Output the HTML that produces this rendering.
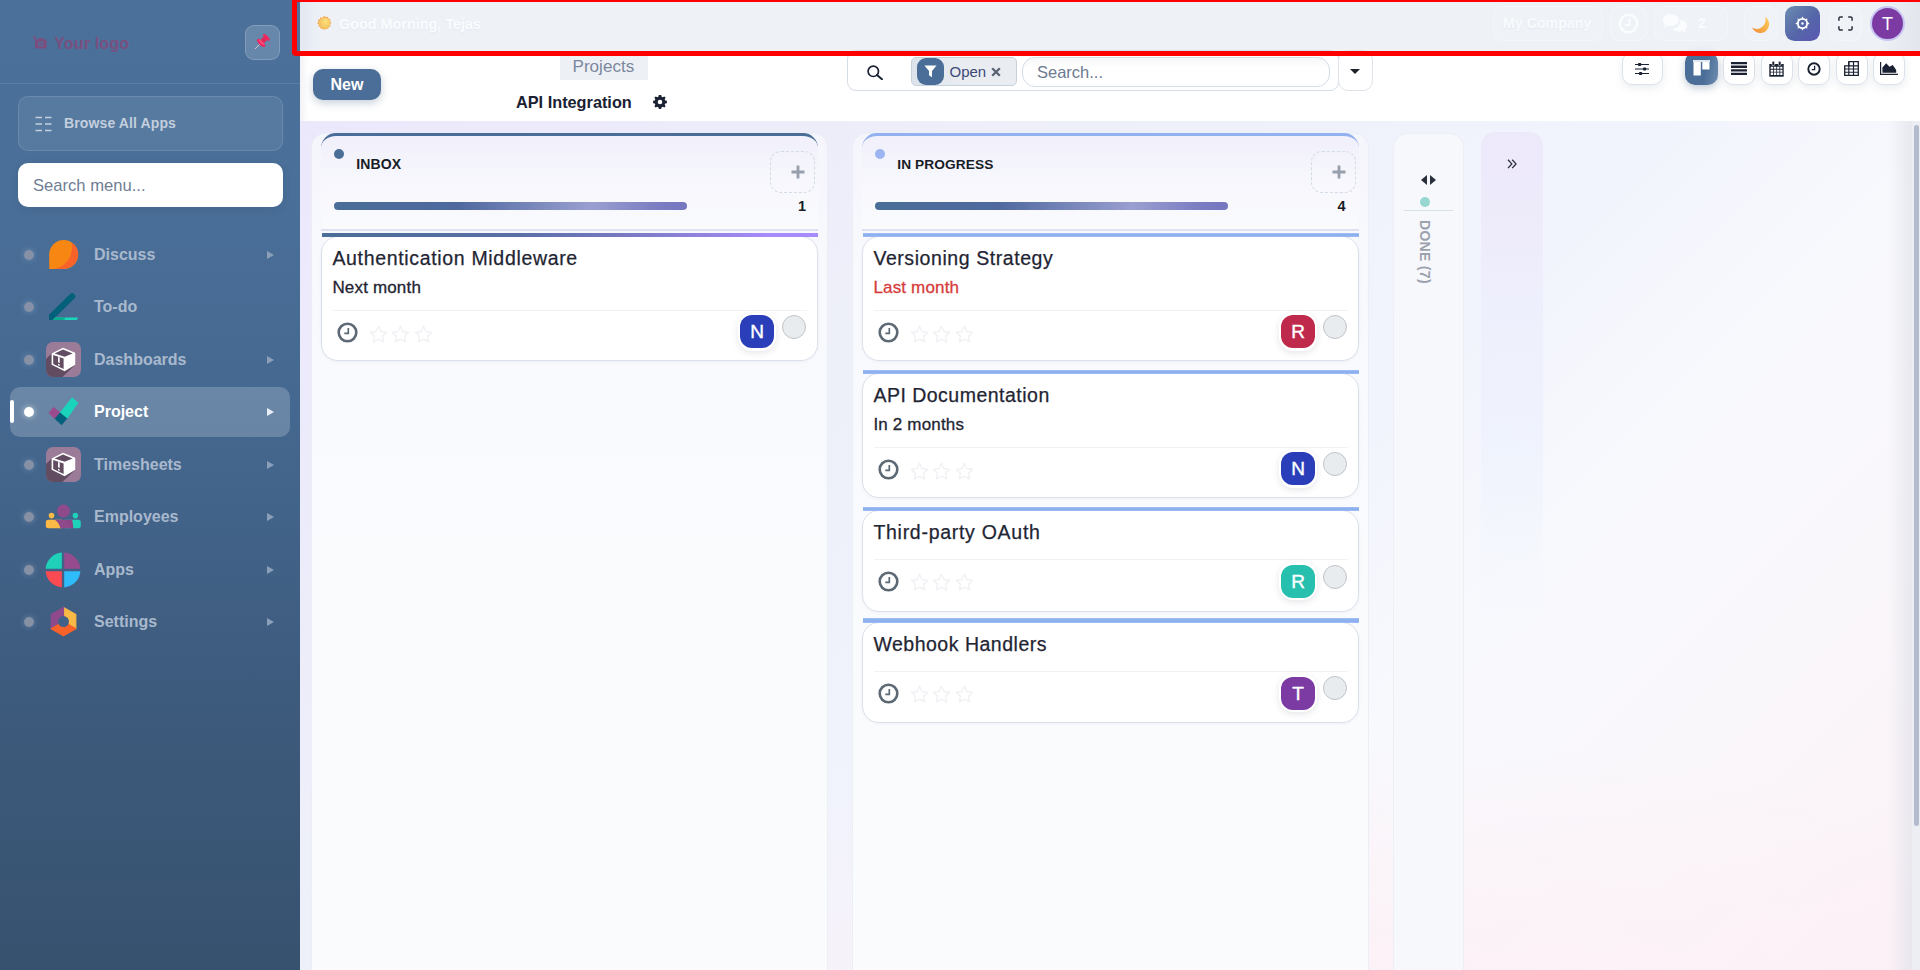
<!DOCTYPE html>
<html lang="en">
<head>
<meta charset="utf-8">
<title>API Integration - Project</title>
<style>
*{box-sizing:border-box;margin:0;padding:0}
html,body{width:1920px;height:970px;overflow:hidden;background:#fff;font-family:"Liberation Sans",sans-serif;color:#1a2233}
.abs{position:absolute}
#app{position:relative;width:1920px;height:970px;overflow:hidden}

/* ---------- sidebar ---------- */
#sidebar{position:absolute;left:0;top:0;width:300px;height:970px;background:linear-gradient(180deg,#4b719b 0%,#4a6f98 20%,#456890 42%,#3e5c7f 68%,#37526f 100%)}
#logo{position:absolute;left:54px;top:33.500px;font-size:16px;font-weight:bold;color:#7a4f80;line-height:20px;letter-spacing:.2px}
#logocam{position:absolute;left:33px;top:36px}
#pin{position:absolute;left:245px;top:25px;width:35px;height:35px;border-radius:9px;background:rgba(255,255,255,.16);border:1px solid rgba(255,255,255,.18)}
#sbline{position:absolute;left:0;top:83px;width:300px;height:1px;background:rgba(255,255,255,.10)}
#browse{position:absolute;left:18px;top:96px;width:265px;height:55px;border-radius:10px;background:rgba(255,255,255,.07);border:1px solid rgba(255,255,255,.12)}
#browse span{position:absolute;left:45px;top:18px;font-size:14px;font-weight:bold;color:#c3cfdd;line-height:17px;letter-spacing:.12px}
#sbsearch{position:absolute;left:18px;top:163px;width:265px;height:44px;border-radius:10px;background:#fff;box-shadow:0 2px 8px rgba(20,40,70,.10)}
#sbsearch span{position:absolute;left:15px;top:13px;font-size:16.6px;color:#6f7d95;line-height:20px}
.mi{position:absolute;left:0;width:300px;height:50px}
.mi .dot{position:absolute;left:24px;top:20px;width:10px;height:10px;border-radius:50%;background:rgba(138,148,168,.95);box-shadow:0 0 6px rgba(170,190,220,.42)}
.mi .ic{position:absolute;left:45px;top:7px;width:36px;height:36px}
.mi .tx{position:absolute;left:94px;top:15px;font-size:16px;font-weight:bold;line-height:20px;color:#a9b9cd}
.mi .ar{position:absolute;left:267.200px;top:20.700px;width:0;height:0;border-left:7px solid #8c9fb9;border-top:4px solid transparent;border-bottom:4px solid transparent}
.mi.active .bg{position:absolute;left:10px;top:0px;width:280px;height:50px;border-radius:10px;background:rgba(255,255,255,.20)}
.mi.active .bar{position:absolute;left:10px;top:13px;width:3.500px;height:23px;border-radius:2px;background:#fff}
.mi.active .dot{background:#fff;box-shadow:0 0 6px rgba(255,255,255,.6)}
.mi.active .tx{color:#fff}
.mi.active .ar{border-left-color:#e8eef6}

/* ---------- topbar ---------- */
#topbar{position:absolute;left:300px;top:0;width:1620px;height:53px;background:#eef2f7}
#topbar .lshade{position:absolute;left:0;top:0;width:22px;height:53px;background:linear-gradient(90deg,#e3e8f1,#eef2f7)}
#topbar .rshade{position:absolute;right:0;top:0;width:40px;height:53px;background:linear-gradient(90deg,#eef2f7,#e2e6ec)}
#redbox{position:absolute;left:292.300px;top:-2.700px;width:1640px;height:58.200px;border:5.100px solid #ff0000;border-radius:4px;pointer-events:none;z-index:50}
#greet{position:absolute;left:39px;top:15px;font-size:14.4px;font-weight:bold;color:#fafcfe;line-height:18px;text-shadow:0 1px 2px rgba(150,165,190,.10)}
.tbb{position:absolute;top:6px;height:35px;border-radius:10px;border:1px solid rgba(255,255,255,.30);background:rgba(255,255,255,.06)}

.vb{position:absolute;top:52px;width:32px;height:33px;border-radius:10px;background:#fff;border:1px solid #dbe2ec;box-shadow:0 3px 8px rgba(60,80,110,.10)}
#content{position:absolute;left:300px;top:121px;width:1620px;height:849px;overflow:hidden;background:radial-gradient(ellipse 900px 280px at 65% 106%,rgba(253,240,246,.95),rgba(253,240,246,0)),linear-gradient(135deg,#ebe8fb 0%,#eceafb 10%,#eef0f9 32%,#f1f3fd 53%,#f8f9fd 68%,#faf6fa 85%,#fcf1f6 100%)}

#kanban{position:absolute;left:0;top:121px;width:1920px;height:849px;overflow:hidden}
#kanban>*{margin-top:-121px}
.kcol{position:absolute;top:132.500px;width:517.700px;height:860px;border-radius:14px;background:linear-gradient(180deg,#f5f5fc 0,#f8f9fd 120px,#fafbfd 500px);border:1px solid #eceef6}
.khead{position:absolute;top:132.500px;width:497px;height:98.500px;border-radius:15px 15px 0 0;border-top:3.500px solid #4a6e97;border-bottom:2px solid #dde1f1;background:linear-gradient(180deg,#f1f0fb 0,#f7f7fd 45px,#fafbfd 98px)}
.kcard{position:absolute;width:497.300px;border-radius:17px;background:#fff;border:1px solid #dbe1ec;box-shadow:0 1px 3px rgba(60,80,120,.06)}
</style>
</head>
<body>
<div id="app">

<!-- ======================= SIDEBAR ======================= -->
<div id="sidebar">
  <svg id="logocam" width="14" height="13" viewBox="0 0 14 13" style="overflow:visible"><path d="M1.700 -.2v3.600M-.1 1.600h3.600" stroke="#7a4f80" stroke-width="1.200" fill="none"/><path d="M3 3.2h2.2l.8-1.2h3.4l.8 1.2H12.6a1 1 0 0 1 1 1V11.4a1 1 0 0 1-1 1H3a1 1 0 0 1-1-1V4.2a1 1 0 0 1 1-1z" fill="#7a4f80"/><circle cx="7.7" cy="7.8" r="2.5" fill="#4d7099"/><circle cx="7.7" cy="7.8" r="1.3" fill="#7a4f80"/></svg>
  <div id="logo">Your logo</div>
  <div id="pin"><svg class="abs" style="left:0;top:0" width="33" height="33" viewBox="0 0 33 33"><path d="M13.900 18.100L9.200 22.700" stroke="#dcc3cc" stroke-width="1" stroke-linecap="round"/><path d="M13.400 15L18.300 10.100 21.700 13.500 16.800 18.400z" fill="#d92c5b"/><ellipse cx="20.400" cy="11.400" rx="4.300" ry="1.700" transform="rotate(45 20.400 11.400)" fill="#f3275f"/><ellipse cx="15.100" cy="16.960" rx="5.200" ry="2.200" transform="rotate(45 15.100 16.960)" fill="#f3275f"/><ellipse cx="15.600" cy="16.400" rx="3.600" ry="1" transform="rotate(45 15.600 16.400)" fill="#ff5f8b" opacity=".75"/></svg></div>
  <div id="sbline"></div>
  <div id="browse">
    <svg class="abs" style="left:16px;top:19px" width="17" height="16" viewBox="0 0 17 16"><g stroke="#c3cfdd" stroke-width="1.5" fill="none"><path d="M0.500 1.5h6.500M10 1.5h6.500M0.500 8h6.500M10 8h6.500M0.500 14.5h6.500M10 14.5h6.500"/></g></svg>
    <span>Browse All Apps</span>
  </div>
  <div id="sbsearch"><span>Search menu...</span></div>

  <!-- menu items -->
  <div class="mi" style="top:230px"><div class="dot"></div>
    <svg class="ic" viewBox="0 0 36 36"><path d="M4.200 32V17.500A14.500 14.500 0 1 1 18.700 32z" fill="#f78613"/><path d="M26.600 5.400A14.500 14.500 0 0 1 18.700 32H10C21.500 29 29 18 26.600 5.400z" fill="#f9632a"/></svg>
    <div class="tx">Discuss</div><div class="ar"></div></div>

  <div class="mi" style="top:282px"><div class="dot"></div>
    <svg class="ic" viewBox="0 0 36 36"><defs><clipPath id="tdc"><rect x="3.900" y="0" width="32" height="30.900"/></clipPath></defs><path d="M2 32.200L27.100 7.400" stroke="#02607a" stroke-width="6.200" stroke-linecap="round" fill="none" clip-path="url(#tdc)"/><path d="M7.900 31l2.300-2.400h23l-1.400 2.400z" fill="#1ad7bc"/><path d="M7.900 31l2.300-2.400h10.300l-1.400 2.400z" fill="#0bae8c"/></svg>
    <div class="tx">To-do</div></div>

  <div class="mi" style="top:335px"><div class="dot"></div>
    <svg class="ic" viewBox="0 0 36 36"><rect x="1" y="0" width="35" height="35" rx="7" fill="#9b7c98"/><path d="M6.600 11.400L1 17V28a7 7 0 0 0 7 7H17.500L30.200 22.750z" fill="#614c61"/><path d="M18 5.800L30.200 10.850V22.750L19.600 29.200 6.600 22.750V11.400z" fill="#fff"/><path d="M18 7.400L27.600 11.400 19.600 14.700 9.600 11.500z" fill="#614c61"/><path d="M8.200 13.100L18.600 16.500V27.100L8.200 21.900z" fill="#614c61"/><path d="M13 14.900l1.700.6v5.400l-1.700-.7zM13 21.700l1.700.7v1.500l-1.700-.7z" fill="#fff"/></svg>
    <div class="tx">Dashboards</div><div class="ar"></div></div>

  <div class="mi active" style="top:387px"><div class="bg"></div><div class="bar"></div><div class="dot"></div>
    <svg class="ic" viewBox="0 0 36 36"><path d="M8.600 13.300L14.750 18.400 10.100 24.800 3.900 19.100z" fill="#9a4b8d" stroke="#9a4b8d" stroke-width=".8" stroke-linejoin="round"/><path d="M15.500 18.400L22.300 24.100 16.600 30.800 10.100 24.800z" fill="#02607a" stroke="#02607a" stroke-width=".8" stroke-linejoin="round"/><path d="M27.200 3.700L32.900 8.900 22.300 24.100 15.500 18.400z" fill="#1ad3bb" stroke="#1ad3bb" stroke-width=".8" stroke-linejoin="round"/></svg>
    <div class="tx">Project</div><div class="ar"></div></div>

  <div class="mi" style="top:440px"><div class="dot"></div>
    <svg class="ic" viewBox="0 0 36 36"><rect x="1" y="0" width="35" height="35" rx="7" fill="#9b7c98"/><path d="M6.600 11.400L1 17V28a7 7 0 0 0 7 7H17.500L30.200 22.750z" fill="#614c61"/><path d="M18 5.800L30.200 10.850V22.750L19.600 29.200 6.600 22.750V11.400z" fill="#fff"/><path d="M18 7.400L27.600 11.400 19.600 14.700 9.600 11.500z" fill="#614c61"/><path d="M8.200 13.100L18.600 16.500V27.100L8.200 21.900z" fill="#614c61"/><path d="M13 14.900l1.700.6v5.400l-1.700-.7zM13 21.700l1.700.7v1.500l-1.700-.7z" fill="#fff"/></svg>
    <div class="tx">Timesheets</div><div class="ar"></div></div>

  <div class="mi" style="top:492px"><div class="dot"></div>
    <svg class="ic" viewBox="0 0 36 36"><circle cx="6.500" cy="16.600" r="2.800" fill="#fbb945"/><circle cx="30.400" cy="16.600" r="2.800" fill="#1fd1b9"/><path d="M3.300 20.700H17v8.600H3.300A2.500 2.500 0 0 1 .8 26.800V23.200A2.500 2.500 0 0 1 3.300 20.700z" fill="#fbb945"/><path d="M20 20.700H33.300A2.500 2.500 0 0 1 35.800 23.200V26.800A2.500 2.500 0 0 1 33.300 29.300H20z" fill="#1fd1b9"/><path d="M9.800 20.700H27.100C27.800 23.500 28 26.500 28.300 29.300H15.500C14.500 25.500 12.500 22.500 9.800 20.700z" fill="#8f4a8c"/><path d="M20.500 20.700H27.100C27.800 23.500 28 26.500 28.300 29.300H25C24.500 25.500 23 22.800 20.500 20.700z" fill="#7d3f7b" opacity=".22"/><circle cx="18.500" cy="12" r="6.500" fill="#8f4a8c"/></svg>
    <div class="tx">Employees</div><div class="ar"></div></div>

  <div class="mi" style="top:545px"><div class="dot"></div>
    <svg class="ic" viewBox="0 0 36 36"><path d="M16.800 0.600A17.500 17.500 0 0 0 0.600 16.800H16.800z" fill="#1fd1b9"/><path d="M19.200 0.600A17.500 17.500 0 0 1 35.400 16.800H19.200z" fill="#954b8d"/><path d="M16.800 35.400A17.500 17.500 0 0 1 0.600 19.200H16.800z" fill="#fb4a52"/><path d="M19.200 35.400A17.500 17.500 0 0 0 35.400 19.200H19.200z" fill="#2ebcfa"/></svg>
    <div class="tx">Apps</div><div class="ar"></div></div>

  <div class="mi" style="top:597px"><div class="dot"></div>
    <svg class="ic" viewBox="0 0 36 36"><path d="M18.50 3.40L30.80 10.50L30.80 24.70L18.5 17.6z" fill="#fbb945" stroke="#fbb945" stroke-width="1.200" stroke-linejoin="round"/><path d="M18.50 3.40L6.20 10.50L6.20 24.70L18.5 17.6z" fill="#8f4a8c" stroke="#8f4a8c" stroke-width="1.200" stroke-linejoin="round"/><path d="M6.20 24.70L18.50 31.80L30.80 24.70L18.5 17.6z" fill="#f9632a" stroke="#f9632a" stroke-width="1.200" stroke-linejoin="round"/><circle cx="18.5" cy="17.6" r="5.500" fill="#42618a"/></svg>
    <div class="tx">Settings</div><div class="ar"></div></div>
</div>

<!-- ======================= TOPBAR ======================= -->
<div id="topbar">
  <div class="lshade"></div><div class="rshade"></div>
  <svg class="abs" style="left:16px;top:15px" width="17" height="17" viewBox="0 0 17 17"><defs><radialGradient id="sung" cx=".6" cy=".35" r=".7"><stop offset="0" stop-color="#fde27a"/><stop offset="1" stop-color="#eeb85a"/></radialGradient></defs><path d="M8.500 0.800l1.500 1.500 2-.6.600 2 2 .6-.6 2 1.500 1.500-1.500 1.500.6 2-2 .6-.6 2-2-.6-1.500 1.500-1.500-1.500-2 .6-.6-2-2-.6.600-2L1 8.300l1.500-1.500-.6-2 2-.6.600-2 2 .6z" fill="#f5a455"/><circle cx="8.500" cy="8.500" r="6" fill="url(#sung)"/></svg>
  <div id="greet">Good Morning, Tejas</div>
</div>

<!-- ======================= TOPBAR RIGHT ======================= -->
<div class="tbb" style="left:1493px;width:110px"></div>
<div class="abs tbt" style="left:1503px;top:14px;font-size:14.2px;font-weight:bold;color:#f9fbfd;line-height:18px;text-shadow:0 1px 2px rgba(150,165,190,.10)">My Company</div>
<div class="tbb" style="left:1610px;width:37px"></div>
<svg class="abs" style="left:1618px;top:13px" width="21" height="21" viewBox="0 0 21 21"><circle cx="10.500" cy="10.500" r="8.700" fill="none" stroke="#fafcfe" stroke-width="2.600"/><path d="M11.500 5.500v6.500H6.800" fill="none" stroke="#fafcfe" stroke-width="2"/></svg>
<div class="tbb" style="left:1654px;width:74px"></div>
<svg class="abs" style="left:1662px;top:13px" width="26" height="21" viewBox="0 0 26 21"><path d="M8.500 1C13 1 16.500 3.500 16.500 7s-3.500 6-8 6c-.9 0-1.800-.1-2.600-.3L2 14.500l1.200-3C1.800 10.300 1 8.700 1 7c0-3.500 3-6 7.500-6z" fill="#fafcfe"/><path d="M18.500 6.500c3.500.5 6.500 2.800 6.500 6 0 1.700-.8 3.200-2.200 4.400l1.200 3-3.900-1.800c-.8.2-1.700.4-2.600.4-3 0-5.500-1.200-7-3 5-.300 8.500-3.500 8-9z" fill="#fafcfe"/></svg>
<div class="abs" style="left:1698px;top:14px;font-size:14px;font-weight:bold;color:#fafcfe;line-height:18px">2</div>
<div class="tbb" style="left:1744px;width:34px"></div>
<svg class="abs" style="left:1750px;top:14px" width="22" height="22" viewBox="0 0 22 22"><defs><linearGradient id="moong" x1="0" y1="1" x2="1" y2="0"><stop offset="0" stop-color="#ef8a38"/><stop offset=".5" stop-color="#f7b048"/><stop offset="1" stop-color="#fbcf5c"/></linearGradient></defs><path d="M14.900 2.700A8.800 8.800 0 1 1 2.130 13.470A8.800 8.800 0 0 0 14.900 2.700z" fill="url(#moong)"/></svg>
<div class="abs" style="left:1785px;top:6px;width:35px;height:35px;border-radius:9.500px;background:linear-gradient(135deg,#6b8cb0 0%,#5566a8 55%,#5a58b2 100%)"></div>
<svg class="abs" style="left:1794.400px;top:15.100px" width="17" height="17" viewBox="-8.500 -8.500 17 17"><circle cx="0" cy="0" r="4.650" fill="none" stroke="#fff" stroke-width="1.850"/><circle cx="0" cy="0" r="1.200" fill="#fff"/><g fill="#fff"><path d="M-1.150 -5.300L0 -7.100 1.150 -5.300z" transform="rotate(0)"/><path d="M-1.150 -5.300L0 -7.100 1.150 -5.300z" transform="rotate(45)"/><path d="M-1.150 -5.300L0 -7.100 1.150 -5.300z" transform="rotate(90)"/><path d="M-1.150 -5.300L0 -7.100 1.150 -5.300z" transform="rotate(135)"/><path d="M-1.150 -5.300L0 -7.100 1.150 -5.300z" transform="rotate(180)"/><path d="M-1.150 -5.300L0 -7.100 1.150 -5.300z" transform="rotate(225)"/><path d="M-1.150 -5.300L0 -7.100 1.150 -5.300z" transform="rotate(270)"/><path d="M-1.150 -5.300L0 -7.100 1.150 -5.300z" transform="rotate(315)"/></g></svg>
<div class="tbb" style="left:1829px;width:33px"></div>
<svg class="abs" style="left:1838px;top:16px" width="15" height="15" viewBox="0 0 15 15"><path d="M0.900 4.800V2.400A1.500 1.500 0 0 1 2.400 .9H4.800M10.200 .9h2.400a1.500 1.500 0 0 1 1.500 1.500V4.800M14.100 10.200v2.400a1.500 1.500 0 0 1-1.500 1.500H10.200M4.800 14.100H2.400A1.500 1.500 0 0 1 .9 12.600V10.200" fill="none" stroke="#2a3140" stroke-width="1.500"/></svg>
<div class="abs" style="left:1870px;top:6px;width:35px;height:35px;border-radius:50%;background:#c9c6f3"></div>
<div class="abs" style="left:1872px;top:8px;width:31px;height:31px;border-radius:50%;background:#7b3ba3;color:#fff;font-size:18px;line-height:32.500px;text-align:center">T</div>

<!-- ======================= CONTROL PANEL ======================= -->
<div class="abs" style="left:300px;top:53px;width:1620px;height:68px;background:#fff"></div>
<div class="abs" style="left:300px;top:53px;width:8px;height:68px;background:linear-gradient(90deg,#f1f2f6,#fff)"></div>
<div class="abs" style="left:313px;top:69px;width:68px;height:31px;border-radius:10px;background:#4a6e97;box-shadow:0 3px 8px rgba(50,80,120,.28);color:#fff;font-size:16px;font-weight:bold;line-height:31px;text-align:center">New</div>
<div class="abs" style="left:560px;top:53px;width:88px;height:27px;background:#edf1f6"></div>
<div class="abs" style="left:572.500px;top:57px;font-size:17.100px;line-height:20px;color:#7c879d">Projects</div>
<div class="abs" style="left:516px;top:92px;font-size:16.300px;font-weight:bold;line-height:20px;color:#1a2132">API Integration</div>
<svg class="abs" style="left:653px;top:95px" width="14" height="14" viewBox="0 0 14 14"><path d="M7 0l1.200.1.400 1.700 1.200.5 1.500-.9 1.300 1.300-.9 1.500.5 1.200 1.700.4V8.200l-1.700.4-.5 1.200.9 1.500-1.300 1.300-1.500-.9-1.200.5-.4 1.700H5.800l-.4-1.700-1.200-.5-1.500.9-1.300-1.300.9-1.500-.5-1.200L.1 8.200V5.800l1.700-.4.500-1.200-.9-1.500L2.700 1.400l1.500.9 1.200-.5L5.800.1z" fill="#1a2132"/><circle cx="7" cy="7" r="2.300" fill="#fff"/></svg>

<!-- search -->
<div class="abs" style="left:847px;top:50px;width:492px;height:41px;border:1px solid #d5dde8;border-radius:9px;background:#fff"></div>
<svg class="abs" style="left:867px;top:65px" width="16" height="15" viewBox="0 0 16 15"><circle cx="6.300" cy="6.300" r="5.200" fill="none" stroke="#1a2132" stroke-width="1.700"/><path d="M10 10l5 4.300" stroke="#1a2132" stroke-width="1.900" stroke-linecap="round"/></svg>
<div class="abs" style="left:911px;top:57px;width:106px;height:29px;border:1px solid #c6d1de;border-radius:5px;background:linear-gradient(90deg,#dde3eb,#e9edf2 50%)"></div>
<div class="abs" style="left:917px;top:58px;width:27px;height:27px;border-radius:9px;background:#4a6e97"></div>
<svg class="abs" style="left:924px;top:65px" width="13" height="13" viewBox="0 0 13 13"><path d="M0.400 0.500h12.200L8 6v6.300L5 10.300V6z" fill="#fff"/></svg>
<div class="abs" style="left:949.500px;top:63px;font-size:15px;line-height:18px;color:#3d4876">Open</div>
<svg class="abs" style="left:991px;top:66.800px" width="10" height="10" viewBox="0 0 10 10"><path d="M1.200 1.200l7.600 7.600M8.800 1.200L1.200 8.800" stroke="#5b6472" stroke-width="2.300"/></svg>
<div class="abs" style="left:1022px;top:57px;width:308px;height:30px;border:1px solid #d5dde8;border-radius:13px;background:linear-gradient(180deg,#f6f7f9 0,#fff 10px)"></div>
<div class="abs" style="left:1037px;top:62px;font-size:16.500px;line-height:20px;color:#6d7a92">Search...</div>
<div class="abs" style="left:1338px;top:50px;width:35px;height:41px;border:1px solid #dfe3ea;border-radius:10px;background:#fff"></div>
<div class="abs" style="left:1350px;top:69px;width:0;height:0;border-top:5.500px solid #1e222b;border-left:5px solid transparent;border-right:5px solid transparent"></div>

<!-- view buttons -->
<div class="vb" style="left:1622px;width:41px"></div>
<svg class="abs" style="left:1635px;top:62px" width="14" height="14" viewBox="0 0 14 14"><g stroke="#1a2132" stroke-width="1.200"><path d="M0 2.500h14M0 7h14M0 11.500h14"/></g><g fill="#1a2132"><rect x="3" y="1" width="3.200" height="3" rx=".8"/><rect x="8" y="5.500" width="3.200" height="3" rx=".8"/><rect x="4" y="10" width="3.200" height="3" rx=".8"/></g></svg>
<div class="abs" style="left:1685px;top:52px;width:33px;height:33px;border-radius:10px;background:linear-gradient(100deg,#4a6e97 60%,#6f8db0);box-shadow:0 3px 8px rgba(50,80,120,.3)"></div>
<svg class="abs" style="left:1693px;top:60px" width="17" height="16" viewBox="0 0 17 16"><path d="M0 0h17v2H0z" fill="#dfe7f0"/><path d="M.5 2h7.300v13.500H.5zM9.300 2h7.200v7.500H9.300z" fill="#fff"/></svg>
<div class="vb" style="left:1723px"></div>
<svg class="abs" style="left:1731px;top:62px" width="16" height="13" viewBox="0 0 16 13"><path d="M0 0h16v2.300H0zM0 3.600h16v2.300H0zM0 7.200h16v2.300H0zM0 10.700h16v2.300H0z" fill="#1a2132"/></svg>
<div class="vb" style="left:1760.500px"></div>
<svg class="abs" style="left:1769px;top:61px" width="15" height="16" viewBox="0 0 15 16"><path d="M.3 3h14.400v12.700H.3z" fill="#1a2132"/><g fill="#fff"><path d="M1.700 5.800h2.500v2H1.700zM5 5.800h2.300v2H5zM8.100 5.800h2.300v2H8.100zM11.200 5.800h2.200v2h-2.200zM1.700 8.700h2.500v2H1.700zM5 8.700h2.300v2H5zM8.100 8.700h2.300v2H8.100zM11.200 8.700h2.200v2h-2.200zM1.700 11.600h2.500v2.300H1.700zM5 11.600h2.300v2.300H5zM8.100 11.600h2.300v2.300H8.100zM11.200 11.600h2.200v2.300h-2.200z"/></g><rect x="3" y=".3" width="2.600" height="4.300" rx="1.200" fill="#1a2132" stroke="#fff" stroke-width=".6"/><rect x="9.400" y=".3" width="2.600" height="4.300" rx="1.200" fill="#1a2132" stroke="#fff" stroke-width=".6"/></svg>
<div class="vb" style="left:1798px"></div>
<svg class="abs" style="left:1807px;top:61.500px" width="14" height="14" viewBox="0 0 14 14"><circle cx="7" cy="7" r="5.700" fill="none" stroke="#1a2132" stroke-width="1.900"/><path d="M7.600 3.800v3.900H4.700" fill="none" stroke="#1a2132" stroke-width="1.300"/></svg>
<div class="vb" style="left:1835.500px"></div>
<svg class="abs" style="left:1844px;top:61px" width="15" height="15" viewBox="0 0 15 15"><path d="M4.800.700h9.500v13.600H.700V4.800h4.100z" fill="none" stroke="#1a2132" stroke-width="1.300"/><path d="M4.800 1v13M9.500 1v13M.700 8h13.600M.700 11.200h13.600M4.800 4.800h9.500" stroke="#1a2132" stroke-width="1.150" fill="none"/></svg>
<div class="vb" style="left:1873px"></div>
<svg class="abs" style="left:1880.300px;top:62.300px" width="18" height="13" viewBox="0 0 18 13"><path d="M.6 0v12.400H18" fill="none" stroke="#1a2132" stroke-width="1.200"/><path d="M2.400 10.800V5.500l3.800-4.300 3.300 3.600 3.300-1.900 3.400 5v2.900z" fill="#1a2132"/></svg>

<!-- ======================= CONTENT ======================= -->
<div id="content"></div>

<div id="kanban">
<div class="kcol" style="left:310.5px"></div>
<div class="khead" style="left:321px;border-top-color:#4a6e97"></div>
<div class="abs" style="left:333.5px;top:149px;width:10px;height:10px;border-radius:50%;background:#4a6e97"></div>
<div class="abs" style="left:356.3px;top:155.500px;font-size:14px;font-weight:bold;line-height:17px;color:#171c26;letter-spacing:.1px">INBOX</div>
<div class="abs" style="left:770px;top:151px;width:45px;height:42px;border:1px dashed #d3dbe6;border-radius:11px"></div>
<svg class="abs" style="left:790.5px;top:165px" width="14" height="14" viewBox="0 0 14 14"><path d="M7 .5v13M.5 7h13" stroke="#989fac" stroke-width="2.800"/></svg>
<div class="abs" style="left:334px;top:201.800px;width:353px;height:8px;border-radius:4px;background:linear-gradient(90deg,#4a6e97 0%,#4f699f 35%,#9a9fd0 73%,#7b7cc2 92%,#7577bf 100%)"></div>
<div class="abs" style="left:761px;top:197.500px;width:45px;text-align:right;font-size:14.500px;font-weight:bold;line-height:17px;color:#171c26">1</div>
<div class="kcard" style="left:320.7px;top:236.0px;height:125px"></div>
<div class="abs" style="left:322px;top:232.5px;width:495.500px;height:4.700px;background:linear-gradient(90deg,#4a6e97 0%,#5a6fa8 40%,#7f7cc8 65%,#a78bfa 90%)"></div>
<div class="abs" style="left:332.4px;top:246.1px;font-size:19.500px;line-height:24px;letter-spacing:0.67px;color:#1f2533;white-space:nowrap;-webkit-text-stroke:.25px #1f2533">Authentication Middleware</div>
<div class="abs" style="left:332.4px;top:278.0px;font-size:17px;line-height:20px;color:#1f2533;white-space:nowrap;letter-spacing:.17px;-webkit-text-stroke:.3px #1f2533">Next month</div>
<div class="abs" style="left:333px;top:310.0px;width:474px;height:1px;background:#f1f2f5"></div>
<svg class="abs" style="left:336.5px;top:321.9px" width="21" height="21" viewBox="0 0 21 21"><circle cx="10.500" cy="10.500" r="8.800" fill="none" stroke="#5d6a75" stroke-width="2.600"/><path d="M11.300 6v5.300H7.300" fill="none" stroke="#5d6a75" stroke-width="1.700"/></svg>
<svg class="abs" style="left:368.7px;top:324.5px" width="19" height="18" viewBox="0 0 19 18"><path d="M9.500 1.300l2.500 5.200 5.700.8-4.100 4 1 5.600-5.100-2.700-5.100 2.700 1-5.600-4.100-4 5.700-.8z" fill="none" stroke="#eef0f3" stroke-width="1.300" stroke-linejoin="round"/></svg>
<svg class="abs" style="left:391.4px;top:324.5px" width="19" height="18" viewBox="0 0 19 18"><path d="M9.500 1.300l2.500 5.200 5.700.8-4.100 4 1 5.600-5.100-2.700-5.100 2.700 1-5.600-4.100-4 5.700-.8z" fill="none" stroke="#eef0f3" stroke-width="1.300" stroke-linejoin="round"/></svg>
<svg class="abs" style="left:414.09999999999997px;top:324.5px" width="19" height="18" viewBox="0 0 19 18"><path d="M9.500 1.300l2.500 5.200 5.700.8-4.100 4 1 5.600-5.100-2.700-5.100 2.700 1-5.600-4.100-4 5.700-.8z" fill="none" stroke="#eef0f3" stroke-width="1.300" stroke-linejoin="round"/></svg>
<div class="abs" style="left:737.5px;top:312.5px;width:38.500px;height:38px;border-radius:14px;background:#fff;box-shadow:0 2px 6px rgba(40,50,80,.12)"></div>
<div class="abs" style="left:740px;top:315.0px;width:34px;height:33px;border-radius:12px;background:#2a3eba;color:#fff;font-size:19px;line-height:34px;text-align:center;-webkit-text-stroke:.4px #fff">N</div>
<div class="abs" style="left:782px;top:314.8px;width:24px;height:24px;border-radius:50%;background:#e8ecef;border:1px solid #c2c4c8"></div>
<div class="kcol" style="left:851.5px"></div>
<div class="khead" style="left:862px;border-top-color:#93b1ee"></div>
<div class="abs" style="left:874.5px;top:149px;width:10px;height:10px;border-radius:50%;background:#9db6f2"></div>
<div class="abs" style="left:897.3px;top:155.500px;font-size:13.7px;font-weight:bold;line-height:17px;color:#171c26;letter-spacing:.1px">IN PROGRESS</div>
<div class="abs" style="left:1311px;top:151px;width:45px;height:42px;border:1px dashed #d3dbe6;border-radius:11px"></div>
<svg class="abs" style="left:1331.5px;top:165px" width="14" height="14" viewBox="0 0 14 14"><path d="M7 .5v13M.5 7h13" stroke="#989fac" stroke-width="2.800"/></svg>
<div class="abs" style="left:875px;top:201.800px;width:353px;height:8px;border-radius:4px;background:linear-gradient(90deg,#4a6e97 0%,#4f699f 35%,#9a9fd0 73%,#7b7cc2 92%,#7577bf 100%)"></div>
<div class="abs" style="left:1300.5px;top:197.500px;width:45px;text-align:right;font-size:14.500px;font-weight:bold;line-height:17px;color:#171c26">4</div>
<div class="kcard" style="left:861.7px;top:236.0px;height:125px"></div>
<div class="abs" style="left:863px;top:232.5px;width:495.500px;height:4.700px;background:linear-gradient(180deg,#a9c3f4 0,#8cb0f0 35%,#8cb0f0 70%,#a5c0f3 100%)"></div>
<div class="abs" style="left:873.4px;top:246.1px;font-size:19.500px;line-height:24px;letter-spacing:0.57px;color:#1f2533;white-space:nowrap;-webkit-text-stroke:.25px #1f2533">Versioning Strategy</div>
<div class="abs" style="left:873.4px;top:278.0px;font-size:17px;line-height:20px;color:#d63c3c;white-space:nowrap;letter-spacing:.17px;-webkit-text-stroke:.3px #d63c3c">Last month</div>
<div class="abs" style="left:874px;top:310.0px;width:474px;height:1px;background:#f1f2f5"></div>
<svg class="abs" style="left:877.5px;top:321.9px" width="21" height="21" viewBox="0 0 21 21"><circle cx="10.500" cy="10.500" r="8.800" fill="none" stroke="#5d6a75" stroke-width="2.600"/><path d="M11.300 6v5.300H7.300" fill="none" stroke="#5d6a75" stroke-width="1.700"/></svg>
<svg class="abs" style="left:909.7px;top:324.5px" width="19" height="18" viewBox="0 0 19 18"><path d="M9.500 1.300l2.500 5.200 5.700.8-4.100 4 1 5.600-5.100-2.700-5.100 2.700 1-5.600-4.100-4 5.700-.8z" fill="none" stroke="#eef0f3" stroke-width="1.300" stroke-linejoin="round"/></svg>
<svg class="abs" style="left:932.4000000000001px;top:324.5px" width="19" height="18" viewBox="0 0 19 18"><path d="M9.500 1.300l2.500 5.200 5.700.8-4.100 4 1 5.600-5.100-2.700-5.100 2.700 1-5.600-4.100-4 5.700-.8z" fill="none" stroke="#eef0f3" stroke-width="1.300" stroke-linejoin="round"/></svg>
<svg class="abs" style="left:955.1px;top:324.5px" width="19" height="18" viewBox="0 0 19 18"><path d="M9.500 1.300l2.500 5.200 5.700.8-4.100 4 1 5.600-5.100-2.700-5.100 2.700 1-5.600-4.100-4 5.700-.8z" fill="none" stroke="#eef0f3" stroke-width="1.300" stroke-linejoin="round"/></svg>
<div class="abs" style="left:1278.5px;top:312.5px;width:38.500px;height:38px;border-radius:14px;background:#fff;box-shadow:0 2px 6px rgba(40,50,80,.12)"></div>
<div class="abs" style="left:1281px;top:315.0px;width:34px;height:33px;border-radius:12px;background:#bf2a4c;color:#fff;font-size:19px;line-height:34px;text-align:center;-webkit-text-stroke:.4px #fff">R</div>
<div class="abs" style="left:1323px;top:314.8px;width:24px;height:24px;border-radius:50%;background:#e8ecef;border:1px solid #c2c4c8"></div>
<div class="kcard" style="left:861.7px;top:373.1px;height:125px"></div>
<div class="abs" style="left:863px;top:369.6px;width:495.500px;height:4.700px;background:linear-gradient(180deg,#a9c3f4 0,#8cb0f0 35%,#8cb0f0 70%,#a5c0f3 100%)"></div>
<div class="abs" style="left:873.4px;top:383.20000000000005px;font-size:19.500px;line-height:24px;letter-spacing:0.49px;color:#1f2533;white-space:nowrap;-webkit-text-stroke:.25px #1f2533">API Documentation</div>
<div class="abs" style="left:873.4px;top:415.1px;font-size:17px;line-height:20px;color:#1f2533;white-space:nowrap;letter-spacing:.17px;-webkit-text-stroke:.3px #1f2533">In 2 months</div>
<div class="abs" style="left:874px;top:447.1px;width:474px;height:1px;background:#f1f2f5"></div>
<svg class="abs" style="left:877.5px;top:459.0px" width="21" height="21" viewBox="0 0 21 21"><circle cx="10.500" cy="10.500" r="8.800" fill="none" stroke="#5d6a75" stroke-width="2.600"/><path d="M11.300 6v5.300H7.300" fill="none" stroke="#5d6a75" stroke-width="1.700"/></svg>
<svg class="abs" style="left:909.7px;top:461.6px" width="19" height="18" viewBox="0 0 19 18"><path d="M9.500 1.300l2.500 5.200 5.700.8-4.100 4 1 5.600-5.100-2.700-5.100 2.700 1-5.600-4.100-4 5.700-.8z" fill="none" stroke="#eef0f3" stroke-width="1.300" stroke-linejoin="round"/></svg>
<svg class="abs" style="left:932.4000000000001px;top:461.6px" width="19" height="18" viewBox="0 0 19 18"><path d="M9.500 1.300l2.500 5.200 5.700.8-4.100 4 1 5.600-5.100-2.700-5.100 2.700 1-5.600-4.100-4 5.700-.8z" fill="none" stroke="#eef0f3" stroke-width="1.300" stroke-linejoin="round"/></svg>
<svg class="abs" style="left:955.1px;top:461.6px" width="19" height="18" viewBox="0 0 19 18"><path d="M9.500 1.300l2.500 5.200 5.700.8-4.100 4 1 5.600-5.100-2.700-5.100 2.700 1-5.600-4.100-4 5.700-.8z" fill="none" stroke="#eef0f3" stroke-width="1.300" stroke-linejoin="round"/></svg>
<div class="abs" style="left:1278.5px;top:449.6px;width:38.500px;height:38px;border-radius:14px;background:#fff;box-shadow:0 2px 6px rgba(40,50,80,.12)"></div>
<div class="abs" style="left:1281px;top:452.1px;width:34px;height:33px;border-radius:12px;background:#2a3eba;color:#fff;font-size:19px;line-height:34px;text-align:center;-webkit-text-stroke:.4px #fff">N</div>
<div class="abs" style="left:1323px;top:451.90000000000003px;width:24px;height:24px;border-radius:50%;background:#e8ecef;border:1px solid #c2c4c8"></div>
<div class="kcard" style="left:861.7px;top:510.1px;height:101.5px"></div>
<div class="abs" style="left:863px;top:506.6px;width:495.500px;height:4.700px;background:linear-gradient(180deg,#a9c3f4 0,#8cb0f0 35%,#8cb0f0 70%,#a5c0f3 100%)"></div>
<div class="abs" style="left:873.4px;top:520.2px;font-size:19.500px;line-height:24px;letter-spacing:0.72px;color:#1f2533;white-space:nowrap;-webkit-text-stroke:.25px #1f2533">Third-party OAuth</div>
<div class="abs" style="left:874px;top:558.8000000000001px;width:474px;height:1px;background:#f1f2f5"></div>
<svg class="abs" style="left:877.5px;top:570.7px" width="21" height="21" viewBox="0 0 21 21"><circle cx="10.500" cy="10.500" r="8.800" fill="none" stroke="#5d6a75" stroke-width="2.600"/><path d="M11.300 6v5.300H7.300" fill="none" stroke="#5d6a75" stroke-width="1.700"/></svg>
<svg class="abs" style="left:909.7px;top:573.3000000000001px" width="19" height="18" viewBox="0 0 19 18"><path d="M9.500 1.300l2.500 5.200 5.700.8-4.100 4 1 5.600-5.100-2.700-5.100 2.700 1-5.600-4.100-4 5.700-.8z" fill="none" stroke="#eef0f3" stroke-width="1.300" stroke-linejoin="round"/></svg>
<svg class="abs" style="left:932.4000000000001px;top:573.3000000000001px" width="19" height="18" viewBox="0 0 19 18"><path d="M9.500 1.300l2.500 5.200 5.700.8-4.100 4 1 5.600-5.100-2.700-5.100 2.700 1-5.600-4.100-4 5.700-.8z" fill="none" stroke="#eef0f3" stroke-width="1.300" stroke-linejoin="round"/></svg>
<svg class="abs" style="left:955.1px;top:573.3000000000001px" width="19" height="18" viewBox="0 0 19 18"><path d="M9.500 1.300l2.500 5.200 5.700.8-4.100 4 1 5.600-5.100-2.700-5.100 2.700 1-5.600-4.100-4 5.700-.8z" fill="none" stroke="#eef0f3" stroke-width="1.300" stroke-linejoin="round"/></svg>
<div class="abs" style="left:1278.5px;top:562.3000000000001px;width:38.500px;height:38px;border-radius:14px;background:#fff;box-shadow:0 2px 6px rgba(40,50,80,.12)"></div>
<div class="abs" style="left:1281px;top:564.8000000000001px;width:34px;height:33px;border-radius:12px;background:#27bfae;color:#fff;font-size:19px;line-height:34px;text-align:center;-webkit-text-stroke:.4px #fff">R</div>
<div class="abs" style="left:1323px;top:564.6px;width:24px;height:24px;border-radius:50%;background:#e8ecef;border:1px solid #c2c4c8"></div>
<div class="kcard" style="left:861.7px;top:621.9px;height:101.5px"></div>
<div class="abs" style="left:863px;top:618.4px;width:495.500px;height:4.700px;background:linear-gradient(180deg,#a9c3f4 0,#8cb0f0 35%,#8cb0f0 70%,#a5c0f3 100%)"></div>
<div class="abs" style="left:873.4px;top:632.0px;font-size:19.500px;line-height:24px;letter-spacing:0.51px;color:#1f2533;white-space:nowrap;-webkit-text-stroke:.25px #1f2533">Webhook Handlers</div>
<div class="abs" style="left:874px;top:670.6px;width:474px;height:1px;background:#f1f2f5"></div>
<svg class="abs" style="left:877.5px;top:682.5px" width="21" height="21" viewBox="0 0 21 21"><circle cx="10.500" cy="10.500" r="8.800" fill="none" stroke="#5d6a75" stroke-width="2.600"/><path d="M11.300 6v5.300H7.300" fill="none" stroke="#5d6a75" stroke-width="1.700"/></svg>
<svg class="abs" style="left:909.7px;top:685.1px" width="19" height="18" viewBox="0 0 19 18"><path d="M9.500 1.300l2.500 5.200 5.700.8-4.100 4 1 5.600-5.100-2.700-5.100 2.700 1-5.600-4.100-4 5.700-.8z" fill="none" stroke="#eef0f3" stroke-width="1.300" stroke-linejoin="round"/></svg>
<svg class="abs" style="left:932.4000000000001px;top:685.1px" width="19" height="18" viewBox="0 0 19 18"><path d="M9.500 1.300l2.500 5.200 5.700.8-4.100 4 1 5.600-5.100-2.700-5.100 2.700 1-5.600-4.100-4 5.700-.8z" fill="none" stroke="#eef0f3" stroke-width="1.300" stroke-linejoin="round"/></svg>
<svg class="abs" style="left:955.1px;top:685.1px" width="19" height="18" viewBox="0 0 19 18"><path d="M9.500 1.300l2.500 5.200 5.700.8-4.100 4 1 5.600-5.100-2.700-5.100 2.700 1-5.600-4.100-4 5.700-.8z" fill="none" stroke="#eef0f3" stroke-width="1.300" stroke-linejoin="round"/></svg>
<div class="abs" style="left:1278.5px;top:674.1px;width:38.500px;height:38px;border-radius:14px;background:#fff;box-shadow:0 2px 6px rgba(40,50,80,.12)"></div>
<div class="abs" style="left:1281px;top:676.6px;width:34px;height:33px;border-radius:12px;background:#7b3ba3;color:#fff;font-size:19px;line-height:34px;text-align:center;-webkit-text-stroke:.4px #fff">T</div>
<div class="abs" style="left:1323px;top:676.4px;width:24px;height:24px;border-radius:50%;background:#e8ecef;border:1px solid #c2c4c8"></div>
<div class="abs" style="left:1392.800px;top:132.500px;width:71px;height:860px;border-radius:14px;background:#f7f8fc;border:1px solid #eceff5"></div>
<div class="abs" style="left:1420.500px;top:174.700px;width:0;height:0;border-right:6px solid #2a2f3c;border-top:5px solid transparent;border-bottom:5px solid transparent"></div>
<div class="abs" style="left:1430px;top:174.700px;width:0;height:0;border-left:6px solid #2a2f3c;border-top:5px solid transparent;border-bottom:5px solid transparent"></div>
<div class="abs" style="left:1419.700px;top:197px;width:10px;height:10px;border-radius:50%;background:#97d7cf"></div>
<div class="abs" style="left:1404px;top:210.200px;width:49px;height:1px;background:#d5e3e9"></div>
<div class="abs" style="left:1415.500px;top:219.500px;width:18px;height:70px;writing-mode:vertical-rl;font-size:14px;font-weight:bold;line-height:18px;letter-spacing:.3px;color:#9ba1ad;white-space:nowrap">DONE (7)</div>
<div class="abs" style="left:1481px;top:131.500px;width:62px;height:520px;border-radius:14px 14px 0 0;background:linear-gradient(180deg,#ede9fb 0,#eeebfb 90px,#eeeffc 170px,rgba(238,242,253,.85) 300px,rgba(241,245,253,.5) 400px,rgba(246,247,253,0) 510px)"></div>
<svg class="abs" style="left:1507px;top:159px" width="10" height="10" viewBox="0 0 10 10"><path d="M1 .8l3.800 4.100L1 9.100M5.200 .8l3.800 4.100-3.800 4.200" fill="none" stroke="#2a2f3c" stroke-width="1.300"/></svg>
<div class="abs" style="left:1888px;top:121px;width:24px;height:849px;background:linear-gradient(90deg,rgba(225,226,234,0),rgba(226,227,234,.75))"></div>
<div class="abs" style="left:1912px;top:121px;width:8px;height:849px;background:#eceef3"></div>
<div class="abs" style="left:1913.500px;top:125px;width:5px;height:701px;border-radius:3px;background:#b3bccf"></div>
</div>
<!--ENDKANBAN-->

<div id="redbox"></div>
</div>
</body>
</html>
